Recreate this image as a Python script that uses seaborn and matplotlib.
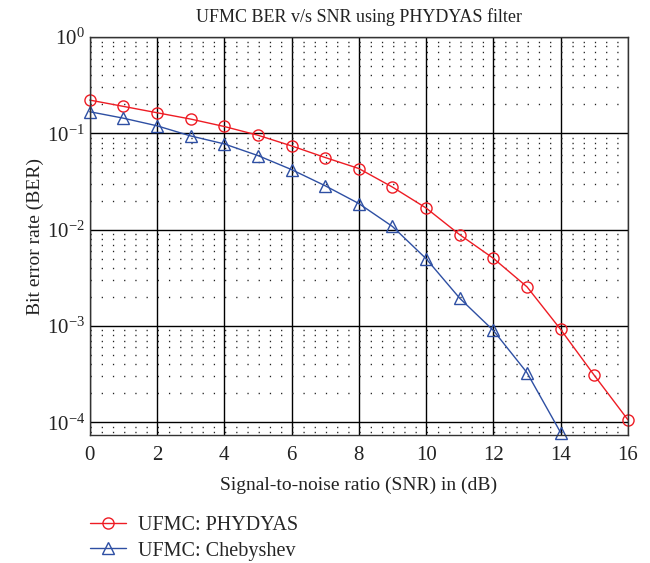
import numpy as np
import pandas as pd
import seaborn as sns
import matplotlib
matplotlib.use("Agg")
import matplotlib.pyplot as plt
from matplotlib.ticker import MultipleLocator, LogLocator, NullFormatter

snr_phydyas = [0, 1, 2, 3, 4, 5, 6, 7, 8, 9, 10, 11, 12, 13, 14, 15, 16]
ber_phydyas = [0.222, 0.191, 0.164, 0.141, 0.118, 0.0958, 0.0742, 0.0562, 0.0432,
               0.0277, 0.0168, 0.00887, 0.00504, 0.00255, 0.00092, 0.000307, 0.000106]
snr_cheb = [0, 1, 2, 3, 4, 5, 6, 7, 8, 9, 10, 11, 12, 13, 14]
ber_cheb = [0.168, 0.144, 0.120, 0.0942, 0.0778, 0.0589, 0.0421, 0.0286, 0.0187,
            0.0108, 0.0050, 0.00194, 0.000898, 0.000327, 0.000078]
labels = ["UFMC: PHYDYAS", "UFMC: Chebyshev"]
x_ticks = [0, 2, 4, 6, 8, 10, 12, 14, 16]

sns.set_theme(style="white")
plt.rcParams['font.family'] = ['Liberation Serif', 'DejaVu Serif']
plt.rcParams['mathtext.fontset'] = 'stix'

fig = plt.figure(figsize=(6.5, 5.63), dpi=100)
ax = fig.add_axes([0.138, 0.227, 0.828, 0.707])

df1 = pd.DataFrame({"snr": snr_phydyas, "ber": ber_phydyas})
df2 = pd.DataFrame({"snr": snr_cheb, "ber": ber_cheb})
sns.lineplot(data=df1, x="snr", y="ber", ax=ax, color="#ee1c24", marker="o",
             markersize=8, markerfacecolor="none", markeredgecolor="#ee1c24",
             markeredgewidth=1.0, linewidth=1.0, label=labels[0], clip_on=False)
sns.lineplot(data=df2, x="snr", y="ber", ax=ax, color="#2e4fa3", marker="^",
             markersize=8.5, markerfacecolor="none", markeredgecolor="#2e4fa3",
             markeredgewidth=1.0, linewidth=1.0, label=labels[1], clip_on=False)

ax.set_yscale("log")
ax.set_xlim(0, 16)
ax.set_ylim(10**-4.135, 1)
ax.set_xticks(x_ticks)
ax.xaxis.set_minor_locator(MultipleLocator(1/3))
ax.yaxis.set_major_locator(LogLocator(base=10, numticks=10))
ax.yaxis.set_minor_locator(LogLocator(base=10, subs=np.arange(2, 10), numticks=20))
ax.yaxis.set_minor_formatter(NullFormatter())

ax.grid(True, which="major", color="black", linewidth=1.0, linestyle="-")
# dotted minor grid: only horizontal rows, dots spaced like the x minor ticks
ax.grid(True, which="minor", axis="y", color="#222222", linewidth=1.0,
        linestyle=(0, (0.9, 7.17)))
ax.set_axisbelow(True)
for s in ax.spines.values():
    s.set_color("#333333")
    s.set_linewidth(1.0)
ax.tick_params(axis="both", which="both", direction="in", colors="#222222",
               labelsize=15, length=4)
ax.tick_params(axis="both", which="minor", length=2.5)
ax.tick_params(axis="x", which="minor", length=0)
ax.tick_params(axis="x", pad=8)

ax.set_title("UFMC BER v/s SNR using PHYDYAS filter", fontsize=13, color="#222222", pad=11)
ax.set_xlabel("Signal-to-noise ratio (SNR) in (dB)", fontsize=14, color="#222222", labelpad=8)
ax.set_ylabel("Bit error rate (BER)", fontsize=14, color="#222222", labelpad=2)

ax.legend(loc="upper left", bbox_to_anchor=(0.117, 0.108), bbox_transform=fig.transFigure,
          frameon=False, fontsize=14.5, handlelength=1.8, handletextpad=0.6,
          labelspacing=0.3, borderpad=0.2)

fig.savefig("out.png", dpi=100)
